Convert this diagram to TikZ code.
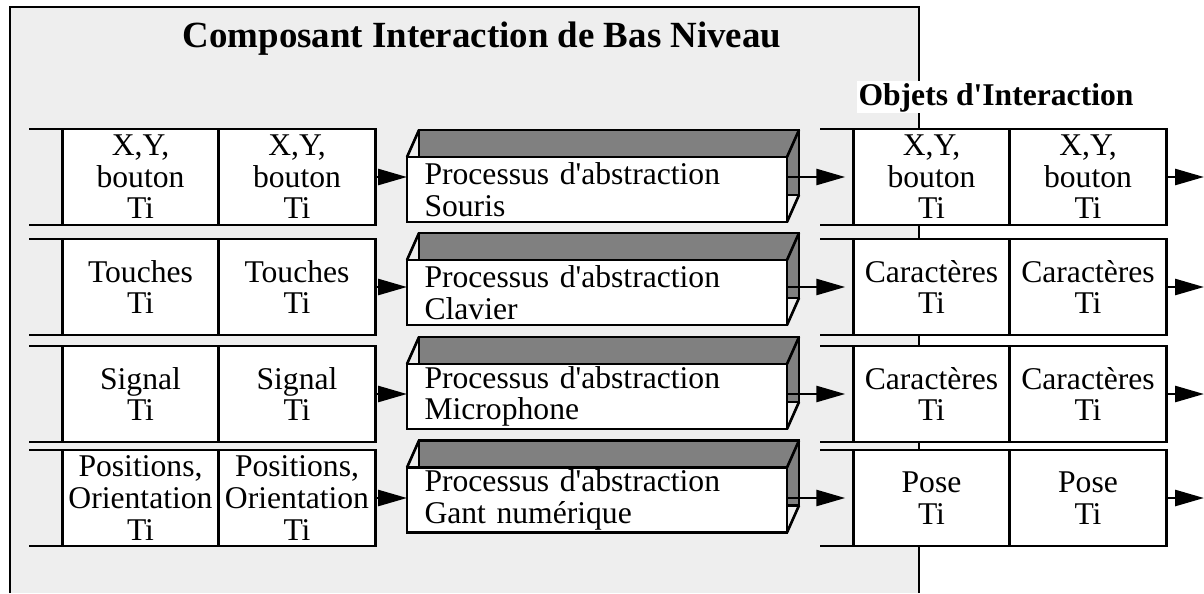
\documentclass[tikz,border=0pt]{standalone}
\usepackage{fontspec}
\setmainfont{Liberation Serif}
\usepackage{tikz}
\usetikzlibrary{arrows.meta, positioning, calc}
\definecolor{panelgray}{RGB}{238,238,238}
\definecolor{facegray}{RGB}{128,128,128}
\newcommand{\cellfont}{\fontsize{18}{18}\selectfont}
\tikzset{
  cellbox/.style={rectangle, draw=black, fill=white,
    minimum width=3.13cm, minimum height=1.92cm, inner sep=0pt,
    outer sep=0pt, align=center, font=\cellfont, line width=1.5pt},
  procbox/.style={rectangle, draw=black, fill=white,
    minimum width=7.6cm, minimum height=1.3cm, text width=6.9cm,
    inner xsep=0.35cm, inner ysep=0pt, outer sep=0pt, align=left,
    font=\cellfont, line width=1.5pt,
    preaction={draw, fill=facegray, transform canvas={shift={(0.24,0.54)}}}},
  arrow/.style={-{Triangle[length=0.58cm, width=0.32cm]}, line width=1.5pt},
  line/.style={line width=1.5pt}
}

\begin{document}
\begin{tikzpicture}
  \useasboundingbox (0,0) rectangle (24.08,-11.86);

  % Low level component panel
  \fill[panelgray] (0.2,-0.14) rectangle (18.38,-11.86);
  \draw[line] (0.2,-11.86) -- (0.2,-0.14) -- (18.38,-0.14) -- (18.38,-11.86);
  \node[font=\fontsize{21}{25}\selectfont\bfseries, anchor=base] (title) at (9.64,-0.94) {Composant Interaction de Bas Niveau};

  % Row 1 : Souris
  \node[cellbox] (i11) at (2.81,-3.54) {X,Y,\\bouton\\Ti};
  \node[cellbox, right=0pt of i11] (i12) {X,Y,\\bouton\\Ti};
  \draw[line] (i11.north west) -- +(-0.66,0) (i11.south west) -- +(-0.66,0);
  \node[procbox] (p1) at (11.94,-3.79) {Processus d\textquotesingle abstraction\\Souris};
  \draw[line] (p1.north west) -- +(0.24,0.54) (p1.north east) -- +(0.24,0.54) (p1.south east) -- +(0.24,0.54);
  \draw[arrow] (i12.east) -- (p1.west |- i12.east);

  % Row 2 : Clavier
  \node[cellbox] (i21) at (2.81,-5.74) {Touches\\Ti};
  \node[cellbox, right=0pt of i21] (i22) {Touches\\Ti};
  \draw[line] (i21.north west) -- +(-0.66,0) (i21.south west) -- +(-0.66,0);
  \node[procbox] (p2) at (11.94,-5.85) {Processus d\textquotesingle abstraction\\Clavier};
  \draw[line] (p2.north west) -- +(0.24,0.54) (p2.north east) -- +(0.24,0.54) (p2.south east) -- +(0.24,0.54);
  \draw[arrow] (i22.east) -- (p2.west |- i22.east);

  % Row 3 : Microphone
  \node[cellbox] (i31) at (2.81,-7.88) {Signal\\Ti};
  \node[cellbox, right=0pt of i31] (i32) {Signal\\Ti};
  \draw[line] (i31.north west) -- +(-0.66,0) (i31.south west) -- +(-0.66,0);
  \node[procbox] (p3) at (11.94,-7.93) {Processus d\textquotesingle abstraction\\Microphone};
  \draw[line] (p3.north west) -- +(0.24,0.54) (p3.north east) -- +(0.24,0.54) (p3.south east) -- +(0.24,0.54);
  \draw[arrow] (i32.east) -- (p3.west |- i32.east);

  % Row 4 : Gant
  \node[cellbox] (i41) at (2.81,-9.96) {Positions,\\Orientation\\Ti};
  \node[cellbox, right=0pt of i41] (i42) {Positions,\\Orientation\\Ti};
  \draw[line] (i41.north west) -- +(-0.66,0) (i41.south west) -- +(-0.66,0);
  \node[procbox] (p4) at (11.94,-10.0) {Processus d\textquotesingle abstraction\\Gant numérique};
  \draw[line] (p4.north west) -- +(0.24,0.54) (p4.north east) -- +(0.24,0.54) (p4.south east) -- +(0.24,0.54);
  \draw[arrow] (i42.east) -- (p4.west |- i42.east);

  % Interaction objects
  \node[font=\fontsize{18}{20}\selectfont\bfseries, fill=white, inner sep=1pt, anchor=base] (objets) at (19.92,-2.10) {Objets d\textquotesingle Interaction};

  \node[cellbox] (o11) at (18.63,-3.54) {X,Y,\\bouton\\Ti};
  \node[cellbox, right=0pt of o11] (o12) {X,Y,\\bouton\\Ti};
  \node[cellbox] (o21) at (18.63,-5.74) {Caractères\\Ti};
  \node[cellbox, right=0pt of o21] (o22) {Caractères\\Ti};
  \node[cellbox] (o31) at (18.63,-7.88) {Caractères\\Ti};
  \node[cellbox, right=0pt of o31] (o32) {Caractères\\Ti};
  \node[cellbox] (o41) at (18.63,-9.96) {Pose\\Ti};
  \node[cellbox, right=0pt of o41] (o42) {Pose\\Ti};

  \draw[line] (o11.north west) -- +(-0.66,0) (o11.south west) -- +(-0.66,0);
  \draw[line] (o21.north west) -- +(-0.66,0) (o21.south west) -- +(-0.66,0);
  \draw[line] (o31.north west) -- +(-0.66,0) (o31.south west) -- +(-0.66,0);
  \draw[line] (o41.north west) -- +(-0.66,0) (o41.south west) -- +(-0.66,0);

  \draw[arrow, shorten >=0.16cm] (p1.east |- o11.west) -- (o11.west);
  \draw[arrow, shorten >=0.16cm] (p2.east |- o21.west) -- (o21.west);
  \draw[arrow, shorten >=0.16cm] (p3.east |- o31.west) -- (o31.west);
  \draw[arrow, shorten >=0.16cm] (p4.east |- o41.west) -- (o41.west);

  % Outgoing events
  \coordinate (e1) at (24.08,-3.54);
  \coordinate (e2) at (24.08,-5.74);
  \coordinate (e3) at (24.08,-7.88);
  \coordinate (e4) at (24.08,-9.96);
  \draw[arrow] (o12.east) -- (e1);
  \draw[arrow] (o22.east) -- (e2);
  \draw[arrow] (o32.east) -- (e3);
  \draw[arrow] (o42.east) -- (e4);
\end{tikzpicture}
\end{document}
